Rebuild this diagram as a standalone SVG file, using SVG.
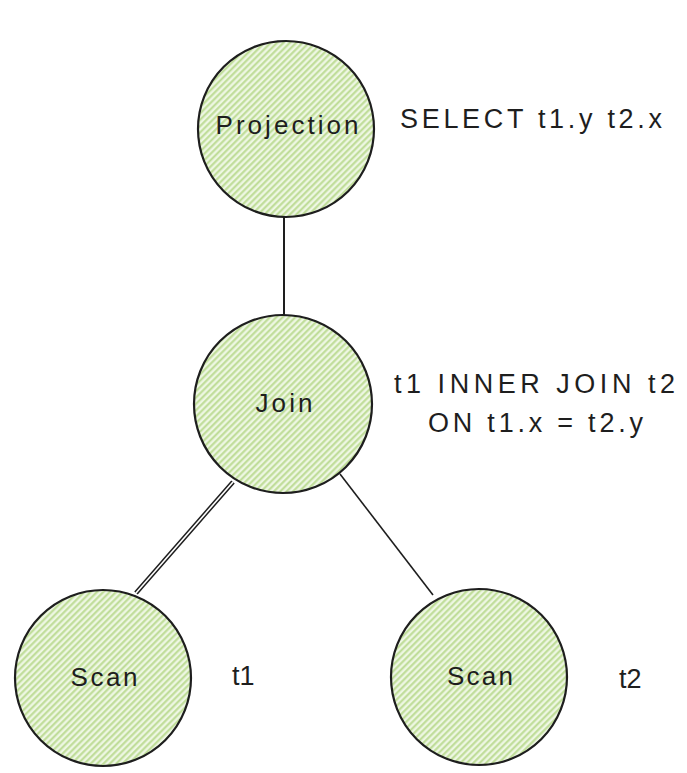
<svg xmlns="http://www.w3.org/2000/svg" width="687" height="773" viewBox="0 0 687 773">
<style>
.node{fill:url(#hatch);stroke:#1e1e1e;stroke-width:2.2}
.lbl{font-family:"Liberation Sans","DejaVu Sans",sans-serif;font-size:26px;fill:#1e1e1e}
.note{font-family:"Liberation Sans","DejaVu Sans",sans-serif;font-size:27px;fill:#1e1e1e}
.conn{stroke:#1e1e1e;fill:none}
</style>
<defs>
<pattern id="hatch" patternUnits="userSpaceOnUse" width="4.5" height="4.5" patternTransform="rotate(45)">
<rect width="4.5" height="4.5" fill="#eef7e3"/>
<line x1="1.2" y1="0" x2="1.2" y2="4.5" stroke="#bcdb93" stroke-width="2"/>
</pattern>
</defs>
<rect width="687" height="773" fill="#ffffff"/>
<g id="connectors">
<line class="conn" x1="284" y1="217" x2="284" y2="315" stroke-width="2"/>
<line class="conn" x1="233" y1="482" x2="136" y2="593" stroke-width="4.6"/>
<line x1="233" y1="482" x2="136" y2="593" stroke="#ffffff" stroke-width="1.6"/>
<line class="conn" x1="340" y1="474" x2="433" y2="595" stroke-width="1.6"/>
</g>
<g id="projection">
<circle class="node" cx="286" cy="129" r="88"/>
<text class="lbl" x="287" y="134" text-anchor="middle" textLength="143" lengthAdjust="spacing">Projection</text>
</g>
<g id="join">
<circle class="node" cx="283" cy="404" r="89"/>
<text class="lbl" x="284" y="412" text-anchor="middle" textLength="57" lengthAdjust="spacing">Join</text>
</g>
<g id="scan1">
<circle class="node" cx="103" cy="678" r="88"/>
<text class="lbl" x="104" y="686" text-anchor="middle" textLength="67" lengthAdjust="spacing">Scan</text>
</g>
<g id="scan2">
<circle class="node" cx="479" cy="677" r="88"/>
<text class="lbl" x="480" y="685" text-anchor="middle" textLength="66" lengthAdjust="spacing">Scan</text>
</g>
<g id="notes">
<text class="note" x="400" y="128" textLength="262" lengthAdjust="spacing">SELECT t1.y t2.x</text>
<text class="note" x="394" y="393" textLength="281" lengthAdjust="spacing">t1 INNER JOIN t2</text>
<text class="note" x="428" y="432" textLength="215" lengthAdjust="spacing">ON t1.x = t2.y</text>
<text class="note" x="232" y="685">t1</text>
<text class="note" x="619" y="688">t2</text>
</g>
</svg>
